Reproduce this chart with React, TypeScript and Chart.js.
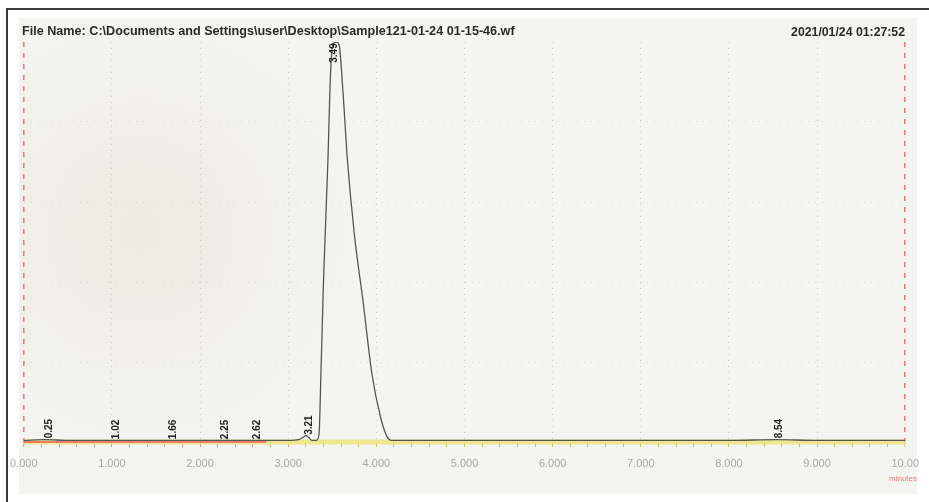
import React, { useEffect, useRef } from "react";
import { Chart, registerables } from "chart.js";

Chart.register(...registerables);

const headerFile = "File Name: C:\\Documents and Settings\\user\\Desktop\\Sample121-01-24 01-15-46.wf";
const headerDate = "2021/01/24 01:27:52";
const axisUnit = "minutes";

// chromatogram trace (time in minutes, signal)
const traceTimes = [0, 0.25, 0.5, 1.0, 1.5, 2.0, 2.5, 3.0, 3.12, 3.17, 3.2, 3.23, 3.27, 3.32, 3.35, 3.37, 3.4, 3.45, 3.48, 3.51, 3.55, 3.58, 3.62, 3.67, 3.75, 3.85, 3.95, 4.05, 4.12, 4.17, 4.5, 5, 6, 7, 8, 8.54, 9, 10];
const traceValues = [0.02, 0.03, 0.02, 0.02, 0.02, 0.02, 0.02, 0.02, 0.03, 0.06, 0.08, 0.06, 0.02, 0.02, 0.1, 0.8, 2.0, 3.5, 4.6, 4.98, 5.0, 4.95, 4.4, 3.55, 2.6, 1.75, 0.85, 0.3, 0.07, 0.02, 0.02, 0.02, 0.02, 0.02, 0.02, 0.03, 0.02, 0.02];

// baseline segments
const redBaseTimes = [0, 2.75];
const redBaseValues = [0, 0];
const yellowBaseTimes = [0, 10];
const yellowBaseValues = [0, 0];

// retention-time labels
const peakTimes = [0.25, 1.02, 1.66, 2.25, 2.62, 3.21, 3.49, 8.54];
const peakLabels = ["0.25", "1.02", "1.66", "2.25", "2.62", "3.21", "3.49", "8.54"];

// axis
const xTickValues = [0, 1, 2, 3, 4, 5, 6, 7, 8, 9, 10];
const xTickLabels = ["0.000", "1.000", "2.000", "3.000", "4.000", "5.000", "6.000", "7.000", "8.000", "9.000", "10.00"];
const yMin = 0;
const yMax = 5;

const toXY = (xs: number[], ys: number[]) => xs.map((x, i) => ({ x, y: ys[i] }));

const interp = (t: number) => {
  for (let i = 0; i < traceTimes.length - 1; i++) {
    if (t >= traceTimes[i] && t <= traceTimes[i + 1]) {
      const f = (t - traceTimes[i]) / (traceTimes[i + 1] - traceTimes[i]);
      return traceValues[i] + f * (traceValues[i + 1] - traceValues[i]);
    }
  }
  return 0;
};

const isInt = (v: number) => Math.abs(v - Math.round(v)) < 1e-6;
const isEdge = (v: number) => Math.abs(v) < 1e-6 || Math.abs(v - 10) < 1e-6;

const paperPlugin = {
  id: "paper",
  beforeDraw(chart: any) {
    const { ctx, width, height } = chart;
    ctx.save();
    ctx.fillStyle = "#ffffff";
    ctx.fillRect(0, 0, width, height);
    ctx.fillStyle = "#f4f4f1";
    ctx.fillRect(19, 18, 898, 476);
    const g = ctx.createRadialGradient(140, 230, 10, 140, 230, 230);
    g.addColorStop(0, "rgba(212,204,170,0.22)");
    g.addColorStop(1, "rgba(212,204,170,0)");
    ctx.fillStyle = g;
    ctx.fillRect(19, 18, 898, 476);
    ctx.strokeStyle = "#3a3a3a";
    ctx.lineWidth = 2;
    ctx.beginPath();
    ctx.moveTo(7, 502);
    ctx.lineTo(7, 9);
    ctx.lineTo(929, 9);
    ctx.stroke();
    ctx.restore();
  },
  afterDraw(chart: any) {
    const { ctx, chartArea } = chart;
    const xs = chart.scales.x;
    const ys = chart.scales.y;
    ctx.save();
    // header
    ctx.fillStyle = "#2a2a2a";
    ctx.textBaseline = "middle";
    ctx.font = "bold 12px 'Liberation Sans', Arial, sans-serif";
    let w = ctx.measureText(headerFile).width;
    let size = 12 * 493 / w;
    ctx.font = `bold ${size.toFixed(2)}px 'Liberation Sans', Arial, sans-serif`;
    ctx.textAlign = "left";
    ctx.fillText(headerFile, 22, 32);
    ctx.font = "bold 12px 'Liberation Sans', Arial, sans-serif";
    w = ctx.measureText(headerDate).width;
    size = 12 * 114 / w;
    ctx.font = `bold ${size.toFixed(2)}px 'Liberation Sans', Arial, sans-serif`;
    ctx.textAlign = "right";
    ctx.fillText(headerDate, 905, 33);
    // unit
    ctx.fillStyle = "rgba(225,90,90,0.8)";
    ctx.font = "8px 'Liberation Sans', Arial, sans-serif";
    ctx.textAlign = "center";
    ctx.fillText(axisUnit, 903, 479);
    // peak labels
    ctx.fillStyle = "#1e1e1e";
    ctx.font = "bold 10px 'Liberation Sans', Arial, sans-serif";
    peakTimes.forEach((t, i) => {
      const px = xs.getPixelForValue(t) + 3;
      const py = ys.getPixelForValue(interp(t));
      const cy = Math.max(py - 11, chartArea.top + 11);
      ctx.save();
      ctx.translate(px, cy);
      ctx.rotate(-Math.PI / 2);
      ctx.textAlign = "center";
      ctx.textBaseline = "middle";
      ctx.fillText(peakLabels[i], 0, 0);
      ctx.restore();
    });
    ctx.restore();
  },
};

export default function App() {
  const ref = useRef<HTMLCanvasElement | null>(null);
  useEffect(() => {
    if (!ref.current) return;
    const chart = new Chart(ref.current, {
      type: "line",
      data: {
        datasets: [
          {
            data: toXY(redBaseTimes, redBaseValues),
            borderColor: "rgba(235,100,95,0.8)",
            borderWidth: 2,
            pointRadius: 0,
            clip: false as any,
          },
          {
            data: toXY(traceTimes, traceValues),
            borderColor: "#555555",
            borderWidth: 1.3,
            pointRadius: 0,
            cubicInterpolationMode: "monotone",
          },
          {
            data: toXY(yellowBaseTimes, yellowBaseValues),
            borderColor: "rgba(238,228,120,0.8)",
            borderWidth: 5,
            pointRadius: 0,
            clip: false as any,
          },
        ],
      },
      options: {
        responsive: false,
        animation: false,
        parsing: false as any,
        layout: { padding: { left: 22, right: 22, top: 42, bottom: 0 } },
        plugins: { legend: { display: false }, tooltip: { enabled: false }, title: { display: false } },
        scales: {
          x: {
            type: "linear",
            min: 0,
            max: 10,
            afterFit: (s: any) => { s.height = 60; },
            ticks: {
              stepSize: 0.2,
              autoSkip: false,
              maxRotation: 0,
              minRotation: 0,
              maxTicksLimit: 200,
              padding: 10,
              color: "#a8a8a8",
              font: { family: "'Liberation Sans', Arial, sans-serif", size: 11 },
              callback: (v: any) => {
                const i = xTickValues.findIndex((t) => Math.abs(t - Number(v)) < 1e-6);
                return i >= 0 ? xTickLabels[i] : "";
              },
            },
            grid: {
              drawOnChartArea: true,
              color: (c: any) => {
                const v = c.tick ? c.tick.value : -1;
                if (isEdge(v)) return "rgba(230,85,85,0.75)";
                return isInt(v) ? "rgba(125,125,125,0.3)" : "rgba(0,0,0,0)";
              },
              lineWidth: (c: any) => {
                const v = c.tick ? c.tick.value : -1;
                return isEdge(v) ? 1.6 : 1;
              },
              tickLength: 5,
              tickWidth: 1,
              tickColor: (c: any) => {
                const v = c.tick ? c.tick.value : 0;
                return v < 2.8 ? "rgba(215,120,110,0.75)" : "rgba(185,175,95,0.8)";
              },
            },
            border: {
              display: false,
              dash: (c: any) => {
                const v = c.tick ? c.tick.value : -1;
                if (isEdge(v)) return [5, 6];
                return [1, 5];
              },
            } as any,
          },
          y: {
            type: "linear",
            min: yMin,
            max: yMax,
            afterFit: (s: any) => { s.width = 0; },
            ticks: { display: false, stepSize: 1 },
            grid: {
              drawTicks: false,
              color: (c: any) => {
                const v = c.tick ? c.tick.value : 0;
                return v > 0.5 && v < yMax - 0.5 ? "rgba(125,125,125,0.22)" : "rgba(0,0,0,0)";
              },
            },
            border: { display: false, dash: [1, 6] } as any,
          },
        },
      },
      plugins: [paperPlugin],
    } as any);
    return () => chart.destroy();
  }, []);
  return (
    <div style={{ position: "absolute", left: 0, top: 0, width: 929, height: 502 }}>
      <canvas ref={ref} width={929} height={502} style={{ display: "block", width: 929, height: 502 }} />
    </div>
  );
}
